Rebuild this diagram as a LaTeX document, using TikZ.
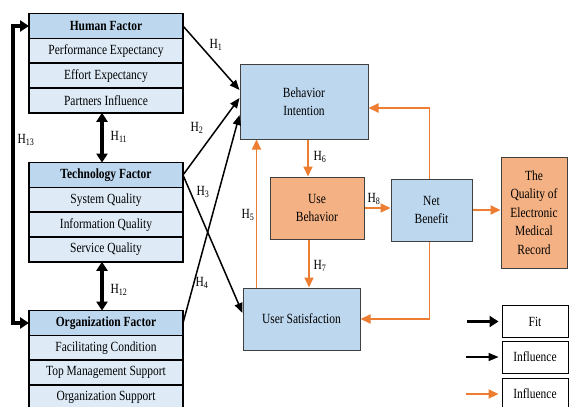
\documentclass[tikz,border=0pt]{standalone}
\usepackage{fontspec}
\setmainfont[FakeStretch=0.82]{Liberation Serif}
\usetikzlibrary{arrows.meta, positioning}
\definecolor{hdrblue}{HTML}{BDD7EE}
\definecolor{rowblue}{HTML}{DEEBF7}
\definecolor{boxorange}{HTML}{F4B183}
\definecolor{lineorange}{HTML}{ED7D31}
\newcommand{\hyp}[1]{H\textsubscript{#1}}

\begin{document}
\begin{tikzpicture}[x=1pt, y=-1pt,
  factor/.style={draw, line width=1.6pt, fill=hdrblue, minimum width=154pt,
                 minimum height=24.8pt, inner sep=0pt, outer sep=0pt,
                 font=\fontsize{14}{16}\selectfont\bfseries},
  item/.style={factor, fill=rowblue, font=\fontsize{14}{16}\selectfont},
  bluebox/.style={draw=black!75, line width=1pt, fill=hdrblue, align=center,
                  inner sep=0pt, font=\fontsize{14}{18.5}\selectfont},
  orangebox/.style={bluebox, fill=boxorange},
  legbox/.style={draw, line width=0.9pt, minimum width=66pt, minimum height=32pt,
                 inner sep=0pt, font=\fontsize{14}{16}\selectfont},
  lbl/.style={font=\fontsize{14}{16}\selectfont, inner sep=0pt},
  fitarr/.style={line width=3.2pt, -{Triangle[length=9pt, width=11pt]}},
  blkarr/.style={line width=1.5pt, -{Triangle[length=10pt, width=8pt]}},
  orgarr/.style={line width=1.8pt, draw=lineorange,
                 -{Triangle[length=10pt, width=9pt, fill=lineorange]}},
]
  \useasboundingbox (0,0) rectangle (571,407);

  % Human factor
  \node[factor] (hf) at (106,26) {Human Factor};
  \node[item, below=0pt of hf] (pe) {Performance Expectancy};
  \node[item, below=0pt of pe] (ee) {Effort Expectancy};
  \node[item, below=0pt of ee] (pi) {Partners Influence};

  % Technology factor
  \node[factor] (tf) at (106,175) {Technology Factor};
  \node[item, below=0pt of tf] (sq) {System Quality};
  \node[item, below=0pt of sq] (iq) {Information Quality};
  \node[item, below=0pt of iq] (svq) {Service Quality};

  % Organization factor
  \node[factor] (of) at (106,323) {Organization Factor};
  \node[item, below=0pt of of] (fc) {Facilitating Condition};
  \node[item, below=0pt of fc] (tms) {Top Management Support};
  \node[item, below=0pt of tms] (os) {Organization Support};

  % Model boxes
  \node[bluebox, minimum width=128pt, minimum height=75pt] (bi) at (304,101.5) {Behavior\\Intention};
  \node[orangebox, minimum width=94pt, minimum height=62pt] (ub) at (317,208) {Use\\Behavior};
  \node[bluebox, minimum width=81pt, minimum height=62pt] (nb) at (431.5,210) {Net\\Benefit};
  \node[bluebox, minimum width=117pt, minimum height=62pt] (us) at (301.5,319) {User Satisfaction};
  \node[orangebox, minimum width=66pt, minimum height=111pt] (emr) at (534,212.5)
       {The\\Quality of\\Electronic\\Medical\\Record};

  % Legend
  \node[legbox] (lfit) at (535,321.5) {Fit};
  \node[legbox] (linf) at (535,357) {Influence};
  \node[legbox] (lorg) at (535,394) {Influence};
  \coordinate (fitstart) at (467,321.5);
  \coordinate (infstart) at (466,357);
  \coordinate (orgstart) at (466,394);

  % Fit arrows
  \draw[fitarr, {Triangle[length=9pt, width=11pt]}-{Triangle[length=9pt, width=11pt]}]
       (hf.west) -- ++(-16,0) |- (of.west);
  \draw[fitarr, {Triangle[length=9pt, width=11pt]}-{Triangle[length=9pt, width=11pt]}]
       ([xshift=-4pt]pi.south) -- ([xshift=-4pt]tf.north);
  \draw[fitarr, {Triangle[length=9pt, width=11pt]}-{Triangle[length=9pt, width=11pt]}]
       ([xshift=-4pt]svq.south) -- ([xshift=-4pt]of.north);

  % Influence arrows
  \draw[blkarr] (hf.east) -- ([yshift=11.5pt]bi.west);
  \draw[blkarr] (tf.east) -- ([yshift=3.5pt]bi.west);
  \draw[blkarr] (tf.east) -- ([yshift=6pt]us.west);
  \draw[blkarr] (of.east) -- ([yshift=-13.5pt]bi.west);

  \draw[orgarr] ([xshift=4pt]bi.south) -- ([xshift=4pt]bi.south |- ub.north);
  \draw[orgarr] ([xshift=-8pt]ub.south) -- ([xshift=-8pt]ub.south |- us.north);
  \draw[orgarr] ([xshift=14pt]us.north west) -- ([xshift=14pt]us.north west |- bi.south);
  \draw[orgarr] (ub.east) -- (ub.east -| nb.west);
  \draw[orgarr] (nb.east) -- (nb.east -| emr.west);
  \draw[orgarr] ([xshift=-2pt]nb.north) |- ([yshift=-6.5pt]bi.east);
  \draw[orgarr] ([xshift=-2pt]nb.south) |- (us.east);

  \draw[fitarr, shorten >=3pt] (fitstart) -- (lfit.west);
  \draw[blkarr, shorten >=3pt] (infstart) -- (linf.west);
  \draw[orgarr, shorten >=3pt] (orgstart) -- (lorg.west);

  % Labels
  \node[lbl] (h1) at (216,45) {\hyp{1}};
  \node[lbl] (h2) at (197,128) {\hyp{2}};
  \node[lbl] (h3) at (203,192) {\hyp{3}};
  \node[lbl] (h4) at (202,283) {\hyp{4}};
  \node[lbl] (h5) at (248,215) {\hyp{5}};
  \node[lbl] (h6) at (320,157) {\hyp{6}};
  \node[lbl] (h7) at (320,266) {\hyp{7}};
  \node[lbl] (h8) at (374,199) {\hyp{8}};
  \node[lbl] (h11) at (119,137) {\hyp{11}};
  \node[lbl] (h12) at (119,290) {\hyp{12}};
  \node[lbl] (h13) at (26,140) {\hyp{13}};
\end{tikzpicture}
\end{document}
